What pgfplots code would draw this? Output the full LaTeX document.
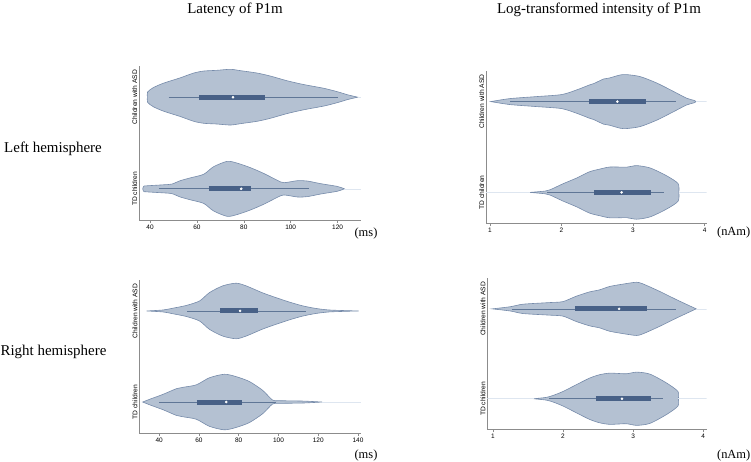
\documentclass[border=0pt]{standalone}
\usepackage{fontspec}
\setmainfont{Liberation Serif}
\newfontfamily\arial{Liberation Sans}
\usepackage{pgfplots}
\pgfplotsset{compat=1.18}
\usepackage{pgfplotstable}
\usepgfplotslibrary{fillbetween}

\definecolor{vfill}{RGB}{180,193,210}
\definecolor{vedge}{RGB}{118,139,170}
\definecolor{boxc}{RGB}{72,97,135}
\definecolor{whisk}{RGB}{95,118,150}
\definecolor{tailc}{RGB}{222,230,240}
\definecolor{axc}{RGB}{140,140,140}

% ---- data: x, half width (axis units) ----
\pgfplotstableread{
x w
38.9 0.000
38.95 0.056
41.4 0.104
45.7 0.152
52.9 0.211
58.6 0.263
62.9 0.285
68.6 0.293
74.3 0.304
78.6 0.289
85.7 0.263
91.4 0.230
98.6 0.178
105.7 0.137
114.3 0.096
120 0.059
124.3 0.026
128.6 0.000
}\LatLA
\pgfplotstableread{
x w
36.9 0.000
37.3 0.028
38.6 0.033
45.7 0.044
49.3 0.052
52.9 0.089
57.1 0.119
62.9 0.159
67.1 0.241
72.9 0.300
77.1 0.281
82.9 0.230
88.6 0.167
94.3 0.093
97.1 0.067
102.9 0.089
107.1 0.085
112.9 0.056
120 0.026
122.9 0.000
}\LatLT
\pgfplotstableread{
x w
33.7 0.000
42 0.011
47 0.031
53.7 0.061
60.3 0.110
65.3 0.202
72 0.276
78.7 0.305
83.7 0.276
92 0.199
98.7 0.147
105.3 0.099
112 0.057
118.7 0.028
125.3 0.011
133.7 0.004
140.3 0.000
}\LatRA
\pgfplotstableread{
x w
31.7 0.000
35.3 0.031
42 0.085
48.7 0.147
52 0.162
58.7 0.189
65.3 0.267
72.8 0.305
78.7 0.279
85.3 0.226
92 0.129
97 0.022
100.3 0.015
112 0.011
118.7 0.004
122 0.000
}\LatRT
\pgfplotstableread{
x w
1.01 0.000
1.28 0.033
1.65 0.055
2.0 0.077
2.21 0.128
2.39 0.183
2.45 0.198
2.59 0.249
2.67 0.260
2.82 0.293
2.91 0.297
3.1 0.275
3.33 0.205
3.56 0.114
3.75 0.037
3.86 0.012
3.88 0.000
}\IntLA
\pgfplotstableread{
x w
1.56 0.000
1.77 0.015
1.84 0.029
2.02 0.095
2.21 0.158
2.39 0.227
2.53 0.256
2.68 0.280
2.91 0.278
3.05 0.295
3.24 0.269
3.47 0.183
3.63 0.097
3.64 0.000
}\IntLT
\pgfplotstableread{
x w
0.99 0.000
1.25 0.024
1.43 0.052
1.81 0.070
2.0 0.081
2.19 0.141
2.38 0.189
2.52 0.211
2.67 0.250
2.9 0.281
3.05 0.296
3.14 0.278
3.38 0.194
3.62 0.102
3.9 0.000
}\IntRA
\pgfplotstableread{
x w
1.58 0.000
1.76 0.015
1.86 0.037
2.0 0.081
2.19 0.156
2.38 0.230
2.52 0.267
2.67 0.285
2.9 0.278
3.05 0.296
3.24 0.274
3.48 0.174
3.64 0.081
3.645 0.000
}\IntRT

% violin: #1 table, #2 centre, #3 unique name
\newcommand{\violin}[3]{%
  \addplot[draw=none, name path=u#3, smooth, tension=0.45] table[x=x, y expr={#2+\thisrow{w}}]{#1};
  \addplot[draw=none, name path=d#3, smooth, tension=0.45] table[x=x, y expr={#2-\thisrow{w}}]{#1};
  \addplot[fill=vfill, draw=vedge, line width=0.6bp] fill between[of=u#3 and d#3];
}
% box: #1 centre, #2 lw, #3 q1, #4 med, #5 q3, #6 uw
\newcommand{\bxp}[6]{%
  \addplot[whisk, line width=0.7bp] coordinates {(#2,#1) (#6,#1)};
  \addplot[boxc, line width=5bp] coordinates {(#3,#1) (#5,#1)};
  \addplot[only marks, mark=*, mark size=1.1bp, white, mark options={draw=white, fill=white}] coordinates {(#4,#1)};
}
\newcommand{\tailline}[3]{%
  \addplot[tailc, line width=0.5bp] coordinates {(#1,#3) (#2,#3)};
}

\pgfplotsset{
  violinaxis/.style={
    scale only axis,
    ymin=-0.34, ymax=1.34,
    axis x line*=bottom, axis y line*=left,
    axis line style={-, draw=axc, line width=0.6bp},
    ytick={0,1}, yticklabels={TD children, Children with ASD},
    y tick label style={rotate=90, anchor=south, font=\arial\fontsize{6.7}{7}\selectfont, inner sep=1.2bp},
    yticklabel shift={-2.5bp},
    x tick label style={font=\arial\fontsize{6.5}{7}\selectfont, inner sep=1.5bp},
    /pgf/number format/assume math mode=true,
    tick align=outside,
    major tick length=3bp,
    ytick style={draw=none},
    xtick style={draw=axc, line width=0.5bp},
    anchor=south west,
  }
}

\begin{document}
\begin{tikzpicture}
\path (0,0) rectangle (751bp,-462bp);

% Panel 1: latency, left hemisphere
\begin{axis}[violinaxis, at={(139bp,-220bp)}, width=222bp, height=154bp,
  xmin=35.3, xmax=130, xtick={40,60,80,100,120}]
  \violin{\LatLA}{1}{a}
  \violin{\LatLT}{0}{b}
  \tailline{128.6}{130}{1}
  \tailline{122.9}{130}{0}
  \bxp{1}{47.9}{61}{75.4}{89}{120}
  \bxp{0}{44}{65}{78.9}{82.9}{107.9}
\end{axis}

% Panel 2: intensity, left hemisphere
\begin{axis}[violinaxis, at={(486bp,-223.3bp)}, width=220.7bp, height=152.6bp,
  xmin=0.944, xmax=4.03, xtick={1,2,3,4}]
  \violin{\IntLA}{1}{c}
  \violin{\IntLT}{0}{d}
  \tailline{3.88}{4.03}{1}
  \tailline{0.944}{1.56}{0}
  \tailline{3.64}{4.03}{0}
  \bxp{1}{1.28}{2.39}{2.78}{3.18}{3.6}
  \bxp{0}{1.8}{2.46}{2.84}{3.25}{3.43}
\end{axis}

% Panel 3: latency, right hemisphere
\begin{axis}[violinaxis, at={(139.3bp,-433bp)}, width=221.7bp, height=153bp,
  xmin=30, xmax=141.5, xtick={40,60,80,100,120,140}]
  \violin{\LatRA}{1}{e}
  \violin{\LatRT}{0}{f}
  \tailline{122}{141.5}{0}
  \bxp{1}{54}{70.8}{80.7}{89.7}{113.7}
  \bxp{0}{40}{59}{73.7}{81.7}{98.7}
\end{axis}

% Panel 4: intensity, right hemisphere
\begin{axis}[violinaxis, at={(487.3bp,-429.3bp)}, width=219.4bp, height=151bp,
  xmin=0.92, xmax=4.05, xtick={1,2,3,4}]
  \violin{\IntRA}{1}{g}
  \violin{\IntRT}{0}{h}
  \tailline{3.9}{4.05}{1}
  \tailline{0.92}{1.58}{0}
  \tailline{3.645}{4.05}{0}
  \bxp{1}{1.27}{2.17}{2.8}{3.2}{3.61}
  \bxp{0}{1.8}{2.47}{2.84}{3.25}{3.42}
\end{axis}

% titles and labels
\node[font=\fontsize{15}{18}\selectfont, inner sep=0] at (235bp,-10bp) {Latency of P1m};
\node[font=\fontsize{15}{18}\selectfont, inner sep=0] at (599bp,-10bp) {Log-transformed intensity of P1m};
\node[font=\fontsize{15}{18}\selectfont, inner sep=0] at (53bp,-149bp) {Left hemisphere};
\node[font=\fontsize{15}{18}\selectfont, inner sep=0] at (53.5bp,-352bp) {Right hemisphere};
\node[font=\fontsize{12.5}{15}\selectfont, inner sep=0] at (366bp,-234bp) {(ms)};
\node[font=\fontsize{12.5}{15}\selectfont, inner sep=0] at (366bp,-455bp) {(ms)};
\node[font=\fontsize{12.5}{15}\selectfont, inner sep=0, anchor=east] at (750.5bp,-233bp) {(nAm)};
\node[font=\fontsize{12.5}{15}\selectfont, inner sep=0, anchor=east] at (750.5bp,-455bp) {(nAm)};
\end{tikzpicture}
\end{document}
